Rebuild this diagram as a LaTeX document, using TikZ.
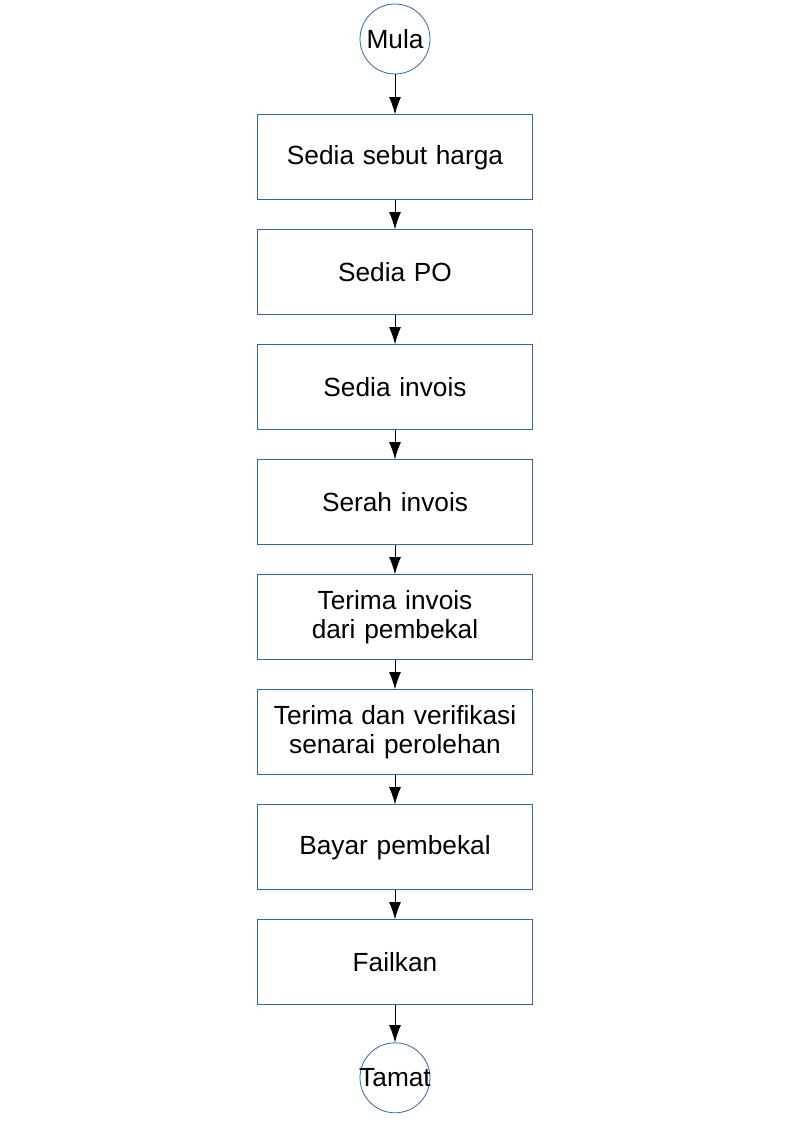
\documentclass[tikz,border=0pt]{standalone}
\usepackage{fontspec}
\setmainfont{Liberation Sans}
\usepackage{xcolor}
\usetikzlibrary{shapes,arrows,arrows.meta,positioning}
\definecolor{boxline}{HTML}{3465A4}
\tikzstyle{block} = [rectangle, draw=boxline, line width=0.75pt, text width=200pt, text centered, minimum width=206.25pt, minimum height=63.75pt, inner sep=0pt, font=\fontsize{19.7}{22}\selectfont]
\tikzstyle{terminal} = [circle, draw=boxline, line width=0.6pt, minimum size=52.5pt, inner sep=0pt, font=\fontsize{19.7}{22}\selectfont]
\tikzstyle{line} = [draw, line width=0.75pt, -{Latex[length=13pt,width=9pt]}]

\begin{document}
\begin{tikzpicture}[node distance = 21.75pt, auto]
            \useasboundingbox (0,0) rectangle (595.5pt,-842.25pt);

            \node[terminal] (mula) at (296.25pt,-29.25pt) {
                \makebox[0pt]{Mula}
            };

            \node[block, below=30pt of mula] (sebut_harga){
                Sedia sebut harga
            };

            \node[block, below=of sebut_harga] (sedia_po){
                Sedia PO
            };

            \node[block, below=of sedia_po] (sedia_invois){
                Sedia invois
            };

            \node[block, below=of sedia_invois] (serah_invois){
                Serah invois
            };

            \node[block, below=of serah_invois] (terima_invois){
                Terima invois\\dari pembekal
            };

            \node[block, below=of terima_invois] (verifikasi){
                Terima dan verifikasi\\senarai perolehan
            };

            \node[block, below=of verifikasi] (bayar){
                Bayar pembekal
            };

            \node[block, below=of bayar] (failkan){
                Failkan
            };

            \node[terminal, below=27.75pt of failkan] (tamat){
                \makebox[0pt]{Tamat}
            };

            \path[line] (mula) -- (sebut_harga);
            \path[line] (sebut_harga) -- (sedia_po);
            \path[line] (sedia_po) -- (sedia_invois);
            \path[line] (sedia_invois) -- (serah_invois);
            \path[line] (serah_invois) -- (terima_invois);
            \path[line] (terima_invois) -- (verifikasi);
            \path[line] (verifikasi) -- (bayar);
            \path[line] (bayar) -- (failkan);
            \path[line] (failkan) -- (tamat);

        \end{tikzpicture}
\end{document}
